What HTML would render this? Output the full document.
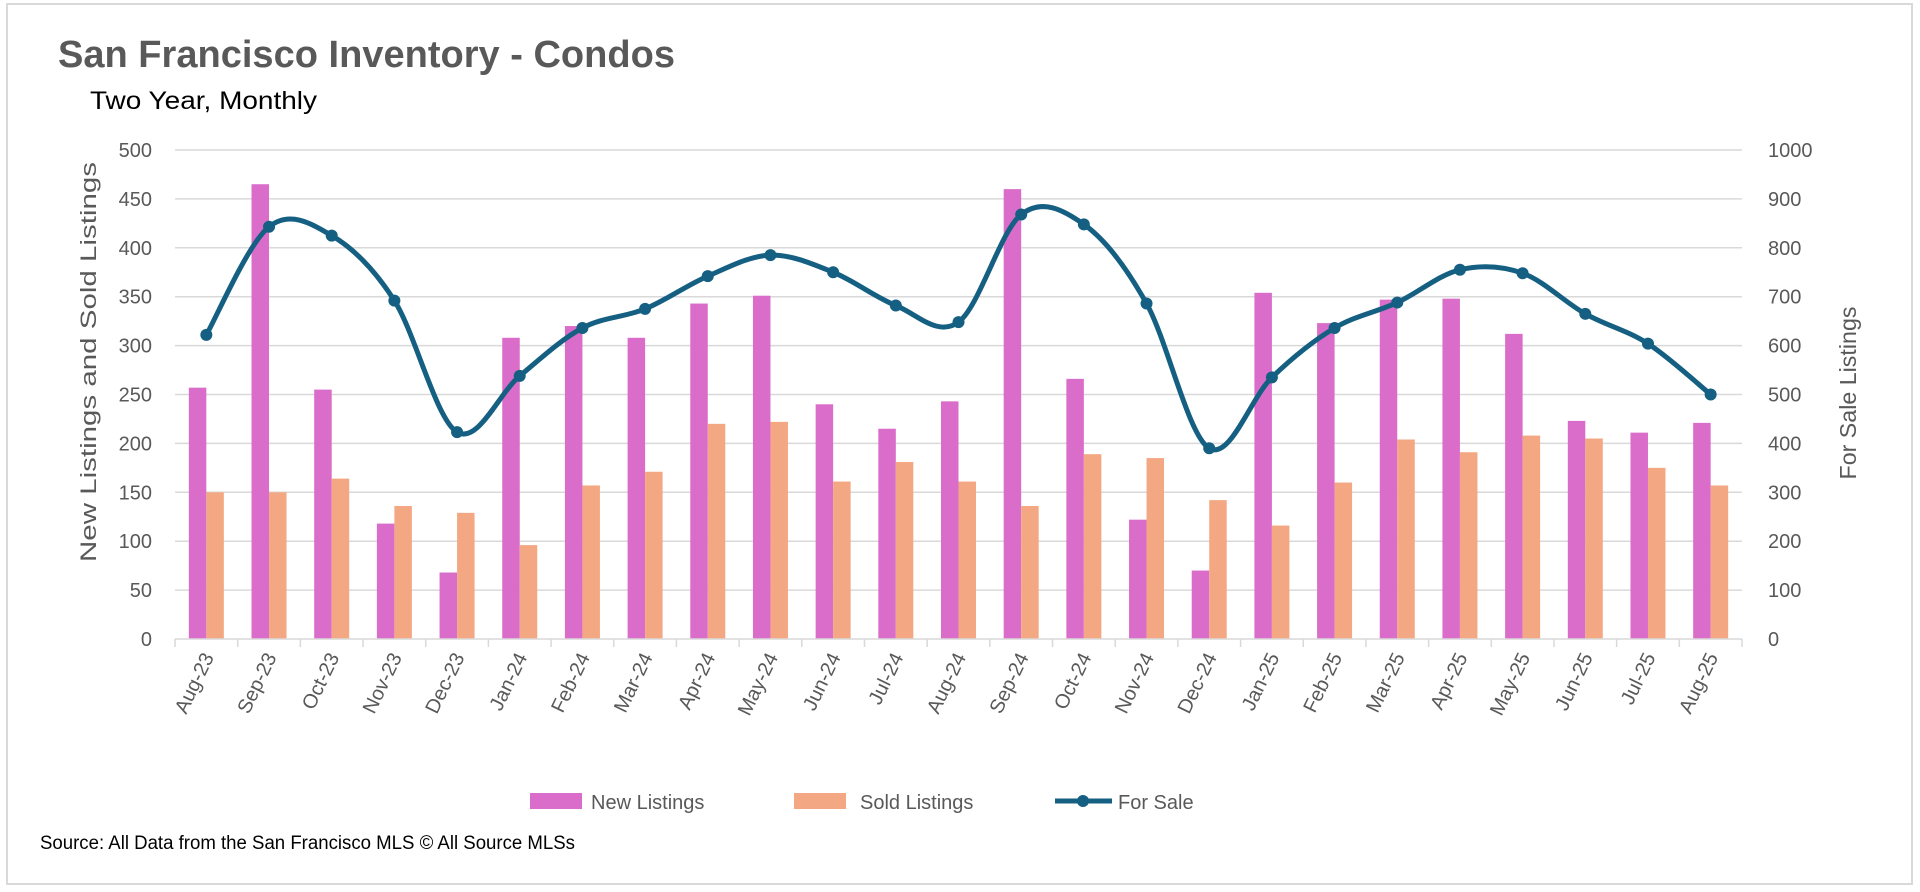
<!DOCTYPE html>
<html><head><meta charset="utf-8"><style>
body{margin:0;background:#fff;font-family:"Liberation Sans",sans-serif}
svg{display:block}
</style></head><body>
<svg id="chart" width="1920" height="892" viewBox="0 0 1920 892">
<rect x="7" y="4" width="1905" height="880" fill="#fff" stroke="#d9d9d9" stroke-width="2"/>
<text x="58" y="67" font-size="38" font-weight="bold" fill="#595959" textLength="617" lengthAdjust="spacingAndGlyphs">San Francisco  Inventory - Condos</text>
<text x="90" y="109" font-size="25" fill="#000" textLength="227" lengthAdjust="spacingAndGlyphs">Two Year, Monthly</text>
<g id="grid"></g><g id="bars"></g><g id="line"></g><g id="axes"></g>
<text transform="translate(96,362) rotate(-90)" text-anchor="middle" font-size="22" fill="#595959" textLength="400" lengthAdjust="spacingAndGlyphs">New Listings and Sold Listings</text>
<text transform="translate(1856,393) rotate(-90)" text-anchor="middle" font-size="23" fill="#595959" textLength="173" lengthAdjust="spacingAndGlyphs">For Sale Listings</text>
<g>
<g><rect x="530" y="793" width="52" height="16" fill="#da6dc9"/><text x="591" y="809" font-size="20" fill="#595959">New Listings</text></g>
<g><rect x="794" y="793" width="52" height="16" fill="#f3a883"/><text x="860" y="809" font-size="20" fill="#595959">Sold Listings</text></g>
<g><line x1="1055" y1="801" x2="1112" y2="801" stroke="#156082" stroke-width="5"/><circle cx="1083" cy="801" r="6" fill="#156082"/><text x="1118" y="809" font-size="20" fill="#595959">For Sale</text></g>
</g>
<text x="40" y="849" font-size="19" fill="#000" textLength="535" lengthAdjust="spacingAndGlyphs">Source: All Data from the San Francisco MLS © All Source MLSs</text>
</svg>
<script>
const categories=["Aug-23","Sep-23","Oct-23","Nov-23","Dec-23","Jan-24","Feb-24","Mar-24","Apr-24","May-24","Jun-24","Jul-24","Aug-24","Sep-24","Oct-24","Nov-24","Dec-24","Jan-25","Feb-25","Mar-25","Apr-25","May-25","Jun-25","Jul-25","Aug-25"];
const newListings=[257,465,255,118,68,308,320,308,343,351,240,215,243,460,266,122,70,354,323,347,348,312,223,211,221];
const soldListings=[150,150,164,136,129,96,157,171,220,222,161,181,161,136,189,185,142,116,160,204,191,208,205,175,157];
const forSale=[622,843,825,692,423,538,636,675,742,785,750,682,648,868,848,686,390,535,636,688,755,748,665,604,500];
const leftTicks=[0,50,100,150,200,250,300,350,400,450,500];
const rightTicks=[0,100,200,300,400,500,600,700,800,900,1000];

const NS="http://www.w3.org/2000/svg";
const X0=175,X1=1742,Y0=639,Y1=150;
const bw=(X1-X0)/categories.length;
const yL=v=>Y0-(v/500)*(Y0-Y1);
const yR=v=>Y0-(v/1000)*(Y0-Y1);
const xc=i=>X0+bw*(i+0.5);
function mk(tag,attrs,parent){const e=document.createElementNS(NS,tag);for(const k in attrs)e.setAttribute(k,attrs[k]);document.getElementById(parent).appendChild(e);return e;}

leftTicks.forEach((t,i)=>{
  if(t>0){const g=mk('line',{x1:X0,x2:X1,y1:yL(t),y2:yL(t),stroke:'#d9d9d9','stroke-width':1.5},'grid');
  
  }
  const l=mk('text',{x:152,y:yL(t)+7,'text-anchor':'end','font-size':20,fill:'#595959'},'axes');l.textContent=t;
  
  
});
rightTicks.forEach(t=>{
  const l=mk('text',{x:1768,y:yR(t)+7,'font-size':20,fill:'#595959'},'axes');l.textContent=t;
  
  
});
const ax=mk('line',{x1:X0,x2:X1,y1:Y0,y2:Y0,stroke:'#d9d9d9','stroke-width':1.5},'axes');


for(let i=0;i<=categories.length;i++){
  const tk=mk('line',{x1:X0+bw*i,x2:X0+bw*i,y1:Y0,y2:Y0+8,stroke:'#d9d9d9','stroke-width':1.5},'axes');
  
  
}
categories.forEach((c,i)=>{
  const bx=xc(i);
  const b1=mk('rect',{x:bx-17.5,y:yL(newListings[i]),width:17.5,height:Y0-yL(newListings[i]),fill:'#da6dc9'},'bars');
  
  
  const b2=mk('rect',{x:bx,y:yL(soldListings[i]),width:17.5,height:Y0-yL(soldListings[i]),fill:'#f3a883'},'bars');
  
  
  const l=mk('text',{transform:`translate(${bx+8},${Y0+18}) rotate(-64)`,'text-anchor':'end','font-size':20,fill:'#595959'},'axes');
  l.textContent=c;
  
  
});
const pts=forSale.map((v,i)=>[xc(i),yR(v)]);
let d=`M${pts[0][0]},${pts[0][1]}`;
for(let i=0;i<pts.length-1;i++){
  const p0=pts[Math.max(0,i-1)],p1=pts[i],p2=pts[i+1],p3=pts[Math.min(pts.length-1,i+2)];
  const t=1/6;
  d+=` C${p1[0]+(p2[0]-p0[0])*t},${p1[1]+(p2[1]-p0[1])*t} ${p2[0]-(p3[0]-p1[0])*t},${p2[1]-(p3[1]-p1[1])*t} ${p2[0]},${p2[1]}`;
}
const path=mk('path',{d:d,fill:'none',stroke:'#156082','stroke-width':5,'stroke-linejoin':'round'},'line');


pts.forEach((p,i)=>{
  const c=mk('circle',{cx:p[0],cy:p[1],r:6,fill:'#156082'},'line');
  
  
});
</script>
</body></html>
